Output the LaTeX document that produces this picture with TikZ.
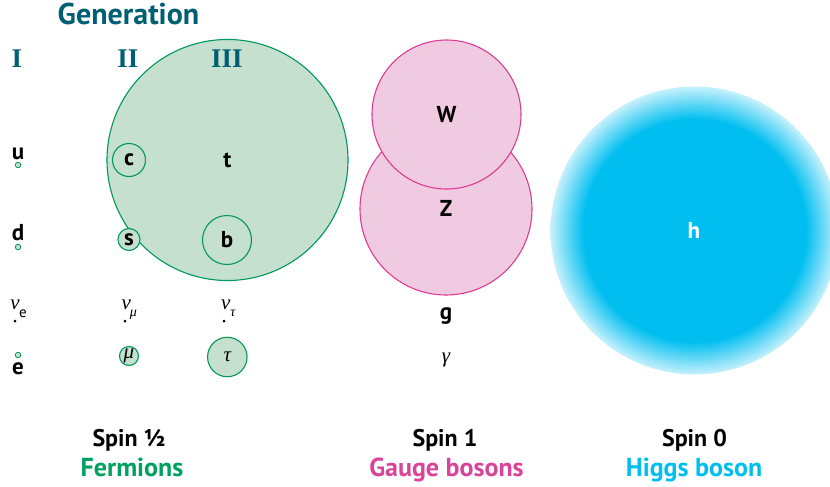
\documentclass[tikz,border=0pt]{standalone}
\usepackage{fontspec}
\setmainfont{PT Sans}
\newfontfamily\serifgr{Liberation Serif}
\definecolor{tealc}{HTML}{006073}
\definecolor{fgreen}{HTML}{00995A}
\definecolor{ffill}{HTML}{C5E0CF}
\definecolor{fgtext}{HTML}{00A060}
\definecolor{bpink}{HTML}{DC3C96}
\definecolor{bfill}{HTML}{F0CAE0}
\definecolor{bptext}{HTML}{D9449A}
\definecolor{hcyan}{HTML}{00BEF0}
\pgfdeclareradialshading{higgsshade}{\pgfpoint{0bp}{0bp}}{color(0bp)=(hcyan); color(19.3bp)=(hcyan); color(25bp)=(hcyan!22); color(50bp)=(hcyan!22)}
\begin{document}
\begin{tikzpicture}[x=1pt,y=-1pt,
  lbl/.style={font=\fontsize{23}{23}\selectfont\bfseries, inner sep=0pt},
  roman/.style={font=\fontsize{27}{27}\selectfont\serifgr\bfseries, text=tealc, inner sep=0pt, anchor=base},
  grk/.style={font=\fontsize{21}{21}\selectfont\serifgr\itshape, inner sep=0pt, anchor=base},
  grksub/.style={font=\fontsize{14}{14}\selectfont\serifgr\itshape, inner sep=0pt, anchor=base},
  fermion/.style={circle, draw=fgreen, fill=ffill, line width=1.1pt, inner sep=0pt, font=\fontsize{23}{23}\selectfont\bfseries},
  tiny/.style={circle, draw=fgreen, fill=ffill, line width=0.8pt, inner sep=0pt, minimum size=5.5pt},
  boson/.style={circle, draw=bpink, fill=bfill, line width=1.1pt, inner sep=0pt, font=\fontsize{23}{23}\selectfont\bfseries},
  nudot/.style={circle, fill=black, inner sep=0pt, minimum size=3pt},
  spin/.style={font=\fontsize{24}{24}\selectfont\bfseries, inner sep=0pt, anchor=base},
  kind/.style={font=\fontsize{26}{26}\selectfont\bfseries, inner sep=0pt, anchor=base},
]
\clip (0,0) rectangle (830,487);
\useasboundingbox (0,0) rectangle (830,487);

% fermions
\node[fermion, minimum size=241pt] (t) at (227.5,160) {t};
\node[fermion, minimum size=33pt] (c) at (129,160) {c};
\node[fermion, minimum size=22pt] (s) at (129,239.5) {s};
\node[fermion, minimum size=49pt] (b) at (227,240) {b};
\node[fermion, minimum size=19pt, font=\fontsize{21}{21}\selectfont\serifgr\itshape] (mu) at (129,356) {μ};
\node[fermion, minimum size=39.5pt, font=\fontsize{21}{21}\selectfont\serifgr\itshape] (tau) at (227.3,357) {τ};

% header
\node[font=\fontsize{30}{30}\selectfont\bfseries, text=tealc, inner sep=0pt, anchor=base] (gen) at (128.5,25) {Generation};
\node[roman] (g1) at (17,68) {I};
\node[roman] (g2) at (128,68) {II};
\node[roman] (g3) at (227,68) {III};

\node[lbl, anchor=base] (u) at (18,159) {u};
\node[tiny] (udot) at (18,165) {};
\node[lbl, anchor=base] (d) at (18,240) {d};
\node[tiny] (ddot) at (18,247) {};
\node[tiny] (edot) at (18,355) {};
\node[lbl, anchor=base] (e) at (18,374) {e};

\node[grk] (nue) at (15,309) {ν};
\node[font=\fontsize{15}{15}\selectfont, inner sep=0pt, anchor=base] (nues) at (23,317) {e};
\node[nudot] (nuedot) at (15,321) {};
\node[grk] (num) at (126.3,309) {ν};
\node[grksub] (nums) at (133.5,316) {μ};
\node[nudot] (numdot) at (125,321) {};
\node[grk] (nut) at (225.8,309) {ν};
\node[grksub] (nuts) at (233,316) {τ};
\node[nudot] (nutdot) at (224,321) {};

% gauge bosons
\node[boson, minimum size=172pt] (Z) at (446,209) {};
\node[lbl] (Zl) at (446,208) {Z};
\node[boson, minimum size=149pt] (W) at (446.5,114.5) {W};
\node[lbl, anchor=base] (g) at (446,319) {g};
\node[grk] (gamma) at (446,362) {γ};

% higgs
\shade[shading=higgsshade] (694.5,230.5) circle (144);
\node[lbl, text=white] (h) at (694,230) {h};

% bottom labels
\node[spin] (s12) at (129,446) {Spin ½};
\node[kind, text=fgtext] (ferm) at (132,476) {Fermions};
\node[spin] (s1) at (445,446) {Spin 1};
\node[kind, text=bptext] (gauge) at (446.5,476) {Gauge bosons};
\node[spin] (s0) at (694.5,446) {Spin 0};
\node[kind, text=hcyan] (higgs) at (694,476) {Higgs boson};
\end{tikzpicture}
\end{document}
